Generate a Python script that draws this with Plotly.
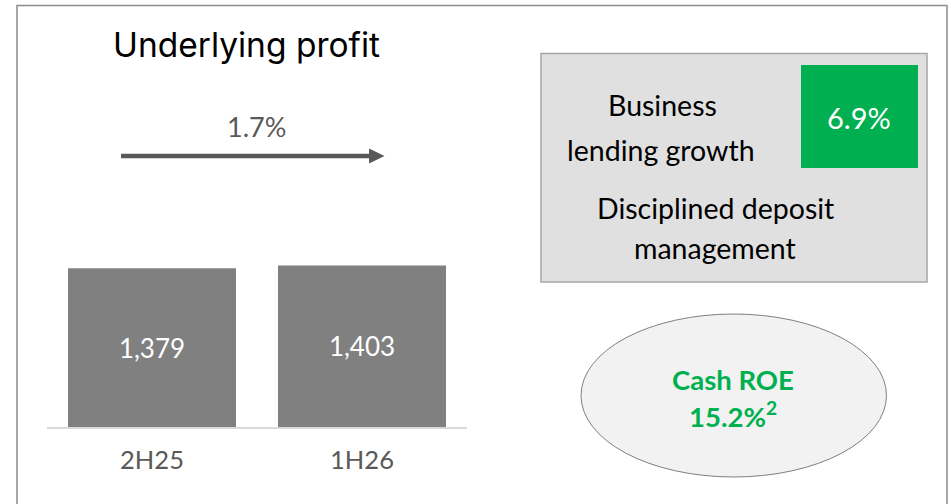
import plotly.graph_objects as go

# ---- data ----
categories = ["2H25", "1H26"]
values = [1379, 1403]
value_labels = ["1,379", "1,403"]
title_text = "Underlying profit"
growth_text = "1.7%"
box_lines = ["Business", "lending growth"]
box_value = "6.9%"
box_lines2 = ["Disciplined deposit", "management"]
roe_label = "Cash ROE"
roe_value = "15.2%<sup>2</sup>"

W, H = 951, 504

def px(x):
    return x / W

def py(y):
    return 1 - y / H

BODY = "Lato, 'Source Sans Pro', sans-serif"
DARK = "#595959"
GREEN = "#00b050"

fig = go.Figure()
fig.add_trace(go.Bar(
    x=categories, y=values, text=value_labels,
    textposition="inside", insidetextanchor="middle",
    textfont=dict(color="white", size=26, family=BODY),
    marker=dict(color="#808080", line=dict(width=0)),
    width=0.8, hoverinfo="skip",
))

y_top_px = 100
y_bot_px = 427.3
scale = 0.1154  # px per unit
ymax = (y_bot_px - y_top_px) / scale

fig.update_layout(
    width=W, height=H, autosize=False,
    margin=dict(l=0, r=0, t=0, b=0),
    paper_bgcolor="white", plot_bgcolor="white",
    showlegend=False,
    xaxis=dict(domain=[px(47), px(467)], range=[-0.5, 1.5],
               showline=True, linecolor="#d9d9d9", linewidth=1.5,
               ticks="", showgrid=False, zeroline=False,
               tickfont=dict(size=25.5, color=DARK, family=BODY),
               ticklabelstandoff=9),
    yaxis=dict(domain=[py(y_bot_px), py(y_top_px)], range=[0, ymax],
               visible=False, showgrid=False, zeroline=False),
)

shapes = []
# outer frame
shapes.append(dict(type="rect", xref="paper", yref="paper",
                   x0=px(17), x1=px(947), y0=py(530), y1=py(5.5),
                   line=dict(color="#8c8c8c", width=1.5), fillcolor="rgba(0,0,0,0)", layer="below"))
# arrow line
shapes.append(dict(type="line", xref="paper", yref="paper",
                   x0=px(121), x1=px(370), y0=py(156), y1=py(156),
                   line=dict(color=DARK, width=4.5)))
# arrow head
shapes.append(dict(type="path", xref="paper", yref="paper",
                   path=f"M {px(369)} {py(148.5)} L {px(384.5)} {py(156)} L {px(369)} {py(163.5)} Z",
                   fillcolor=DARK, line=dict(width=0)))
# right gray box
shapes.append(dict(type="rect", xref="paper", yref="paper",
                   x0=px(541), x1=px(927), y0=py(282), y1=py(53.5),
                   line=dict(color="#a6a6a6", width=1.5), fillcolor="#e0e0e0"))
# green square
shapes.append(dict(type="rect", xref="paper", yref="paper",
                   x0=px(801), x1=px(918), y0=py(168), y1=py(65),
                   line=dict(width=0), fillcolor=GREEN))
# ellipse
shapes.append(dict(type="circle", xref="paper", yref="paper",
                   x0=px(581), x1=px(886.5), y0=py(477), y1=py(314),
                   line=dict(color="#7f7f7f", width=1), fillcolor="#f2f2f2"))
fig.update_layout(shapes=shapes)

ann = []
def txt(x, y, s, size, color, family=BODY, bold=False):
    ann.append(dict(x=px(x), y=py(y), xref="paper", yref="paper", text=(f"<b>{s}</b>" if bold else s),
                    showarrow=False, xanchor="center", yanchor="middle",
                    font=dict(size=size, color=color, family=family)))

txt(246, 45, title_text, 33.5, "#000000", family="Inter, sans-serif")
txt(256, 126, growth_text, 27, DARK)
txt(662, 105, box_lines[0], 28.5, "#000000")
txt(661, 150, box_lines[1], 28.5, "#000000")
txt(859, 117, box_value, 29, "white")
txt(715, 208, box_lines2[0], 28.5, "#000000")
txt(715, 248, box_lines2[1], 28.5, "#000000")
txt(733, 379, roe_label, 27.5, GREEN, bold=True)
txt(733, 414, roe_value, 27.5, GREEN, bold=True)
fig.update_layout(annotations=ann)

fig.write_html("out.html", config={"displayModeBar": False},
               post_script="document.body.style.margin='0';document.body.style.overflow='hidden';")
